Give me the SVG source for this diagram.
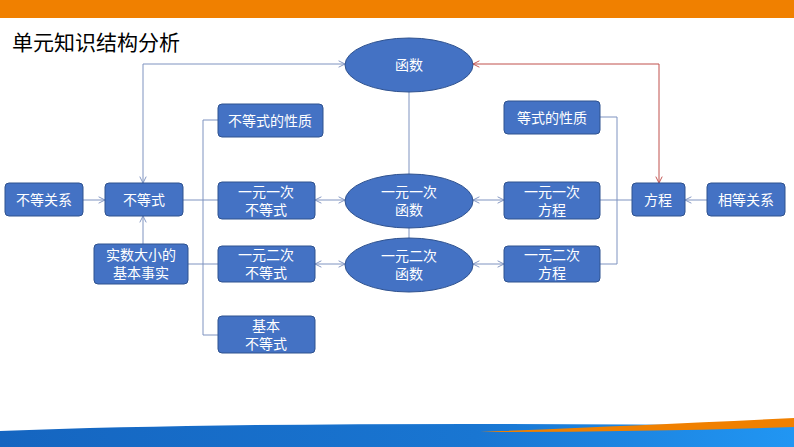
<svg xmlns="http://www.w3.org/2000/svg" width="794" height="447" viewBox="0 0 794 447">
<style>
.b{fill:#4472C4;stroke:#2F528F;stroke-width:1}
.t{fill:#fff;font-family:"Liberation Sans","Noto Sans CJK SC",sans-serif;font-size:14px;text-anchor:middle}
.c{fill:none;stroke:#7F93C0;stroke-width:1}
</style>
<defs>
<marker id="a" viewBox="0 0 10 10" refX="9" refY="5" markerWidth="8" markerHeight="8" orient="auto-start-reverse" markerUnits="userSpaceOnUse"><path d="M1 1L9 5L1 9" fill="none" stroke="#7F93C0" stroke-width="1.2"/></marker>
<marker id="r" viewBox="0 0 10 10" refX="9" refY="5" markerWidth="8" markerHeight="8" orient="auto-start-reverse" markerUnits="userSpaceOnUse"><path d="M1 1L9 5L1 9" fill="none" stroke="#C0504D" stroke-width="1.2"/></marker>
<linearGradient id="g" x1="0" x2="1" y1="0" y2="0"><stop offset="0" stop-color="#1565C0"/><stop offset="0.6" stop-color="#1976D2"/><stop offset="1" stop-color="#2196F3"/></linearGradient>
</defs>
<rect x="0" y="0" width="794" height="18" fill="#F08000"/>
<path d="M0 431 Q300 420 794 426 L794 447 L0 447Z" fill="url(#g)"/>
<path d="M480 432 Q650 425 794 418 L794 427 Q640 432 480 432Z" fill="#F08000"/>
<text x="12" y="50" font-family="'Noto Sans CJK SC',sans-serif" font-size="21" fill="#000">单元知识结构分析</text>
<g id="connectors">
<path class="c" d="M83 200H105" marker-end="url(#a)"/>
<path class="c" d="M143 183V64H345" marker-start="url(#a)" marker-end="url(#a)"/>
<path class="c" d="M143 244V216" marker-end="url(#a)"/>
<path class="c" d="M183 200H218M188 264H218M218 120H203V335H218"/>
<path class="c" d="M315 200H345" marker-start="url(#a)" marker-end="url(#a)"/>
<path class="c" d="M315 264H345" marker-start="url(#a)" marker-end="url(#a)"/>
<path class="c" d="M409 92V174M409 228V238"/>
<path class="c" d="M473 200H504" marker-start="url(#a)" marker-end="url(#a)"/>
<path class="c" d="M473 264H504" marker-start="url(#a)" marker-end="url(#a)"/>
<path class="c" d="M600 117H617V264H600M600 200H632"/>
<path class="c" d="M707 200H685" marker-end="url(#a)"/>
<path fill="none" stroke="#C0504D" d="M473 64H659V183" marker-start="url(#r)" marker-end="url(#r)"/>
</g>
<g id="hanshu"><ellipse class="b" cx="409" cy="65" rx="64" ry="27"/><text class="t" x="409" y="70">函数</text></g>
<g id="bdsxz"><rect class="b" x="218" y="104" width="105" height="33" rx="4"/><text class="t" x="270" y="126">不等式的性质</text></g>
<g id="dsxz"><rect class="b" x="504" y="101" width="96" height="33" rx="4"/><text class="t" x="552" y="123">等式的性质</text></g>
<g id="bdgx"><rect class="b" x="5" y="183" width="78" height="33" rx="4"/><text class="t" x="44" y="205">不等关系</text></g>
<g id="bds"><rect class="b" x="105" y="183" width="78" height="33" rx="4"/><text class="t" x="144" y="205">不等式</text></g>
<g id="yybds"><rect class="b" x="218" y="182" width="97" height="37" rx="4"/><text class="t" x="266" y="197">一元一次</text><text class="t" x="266" y="215">不等式</text></g>
<g id="yyhs"><ellipse class="b" cx="409" cy="201" rx="64" ry="27"/><text class="t" x="409" y="197">一元一次</text><text class="t" x="409" y="215">函数</text></g>
<g id="yyfc"><rect class="b" x="504" y="182" width="96" height="37" rx="4"/><text class="t" x="552" y="197">一元一次</text><text class="t" x="552" y="215">方程</text></g>
<g id="fc"><rect class="b" x="632" y="183" width="53" height="33" rx="4"/><text class="t" x="658" y="205">方程</text></g>
<g id="xdgx"><rect class="b" x="707" y="183" width="78" height="33" rx="4"/><text class="t" x="746" y="205">相等关系</text></g>
<g id="sszd"><rect class="b" x="94" y="244" width="94" height="40" rx="4"/><text class="t" x="141" y="260">实数大小的</text><text class="t" x="141" y="278">基本事实</text></g>
<g id="yebds"><rect class="b" x="218" y="246" width="97" height="36" rx="4"/><text class="t" x="266" y="260">一元二次</text><text class="t" x="266" y="278">不等式</text></g>
<g id="yehs"><ellipse class="b" cx="409" cy="265" rx="64" ry="27"/><text class="t" x="409" y="261">一元二次</text><text class="t" x="409" y="279">函数</text></g>
<g id="yefc"><rect class="b" x="504" y="246" width="96" height="36" rx="4"/><text class="t" x="552" y="260">一元二次</text><text class="t" x="552" y="278">方程</text></g>
<g id="jbbds"><rect class="b" x="218" y="316" width="97" height="37" rx="4"/><text class="t" x="266" y="331">基本</text><text class="t" x="266" y="349">不等式</text></g>
</svg>
